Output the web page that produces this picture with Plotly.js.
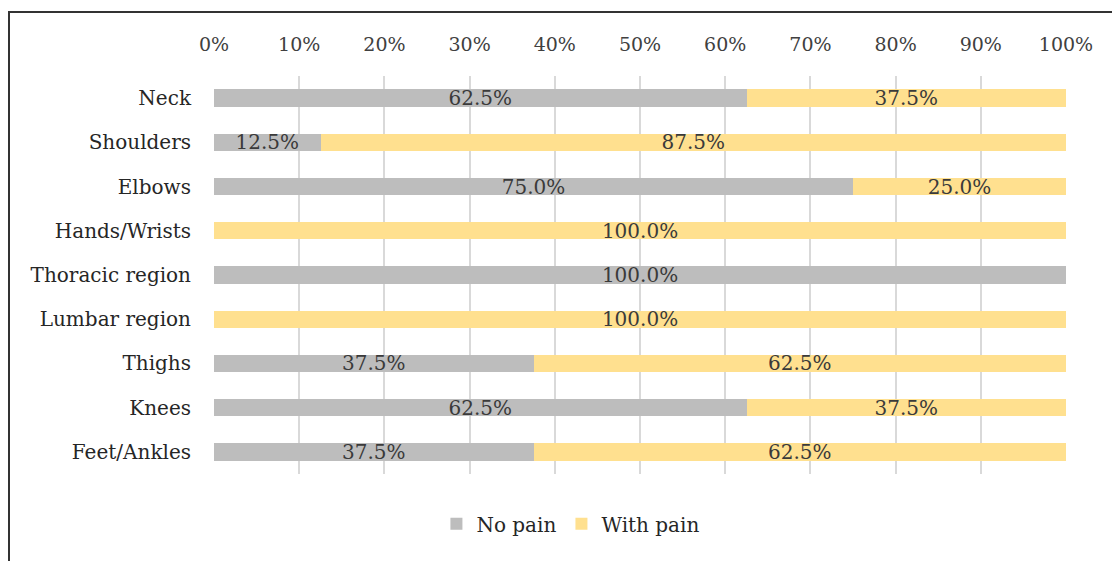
<!DOCTYPE html>
<html>
<head>
<meta charset="utf-8">
<script src="https://cdn.plot.ly/plotly-3.0.1.min.js"></script>
<style>
  html, body { margin: 0; padding: 0; background: #fff; }
  #frame { position: absolute; left: 8px; top: 11px; width: 1104px; height: 550px;
           border-left: 2px solid #333; border-top: 2px solid #333; box-sizing: border-box; }
  #chart { width: 1102px; height: 548px; }
</style>
</head>
<body>
<div id="frame"><div id="chart"></div></div>
<script>
const categories = ["Neck", "Shoulders", "Elbows", "Hands/Wrists", "Thoracic region",
                    "Lumbar region", "Thighs", "Knees", "Feet/Ankles"];
const noPain   = [62.5, 12.5, 75.0, 0, 100.0, 0, 37.5, 62.5, 37.5];
const withPain = [37.5, 87.5, 25.0, 100.0, 0, 100.0, 62.5, 37.5, 62.5];
const tickVals = [0, 10, 20, 30, 40, 50, 60, 70, 80, 90, 100];

const fmt = v => v > 0 ? v.toFixed(1) + '%' : '';
const FONT = "DejaVu Serif, serif";

const common = {
  type: 'bar', orientation: 'h', y: categories,
  texttemplate: '%{text}', textposition: 'inside', insidetextanchor: 'middle',
  textangle: 0, constraintext: 'none',
  textfont: { family: FONT, size: 20, color: '#3a3a3a' },
  hoverinfo: 'skip'
};

const traces = [
  Object.assign({}, common, { name: 'No pain', x: noPain, text: noPain.map(fmt),
    marker: { color: '#bdbdbd' } }),
  Object.assign({}, common, { name: 'With pain', x: withPain, text: withPain.map(fmt),
    marker: { color: '#ffe08f' } })
];

const layout = {
  width: 1102, height: 548,
  margin: { l: 204, r: 46, t: 63, b: 87 },
  barmode: 'stack', bargap: 0.61,
  paper_bgcolor: '#fff', plot_bgcolor: '#fff',
  font: { family: FONT, size: 20, color: '#333' },
  xaxis: {
    side: 'top', range: [0, 100], tickvals: tickVals,
    ticktext: tickVals.map(v => v + '%'),
    showgrid: true, gridcolor: '#d9d9d9', gridwidth: 2,
    zeroline: false, showline: false, ticks: '',
    ticklabelstandoff: 20,
    tickfont: { family: FONT, size: 19, color: '#404040' }
  },
  yaxis: {
    autorange: 'reversed', showgrid: false, zeroline: false, showline: false,
    ticks: '', ticklabelstandoff: 22,
    tickfont: { family: FONT, size: 20, color: '#262626' }
  },
  showlegend: true,
  legend: {
    orientation: 'h', xref: 'container', yref: 'container',
    x: 0.509, xanchor: 'center', y: 0.068, yanchor: 'middle',
    font: { family: FONT, size: 20, color: '#262626' },
    itemwidth: 30, traceorder: 'normal'
  }
};

Plotly.newPlot('chart', traces, layout, { displayModeBar: false, staticPlot: true });
</script>
</body>
</html>
